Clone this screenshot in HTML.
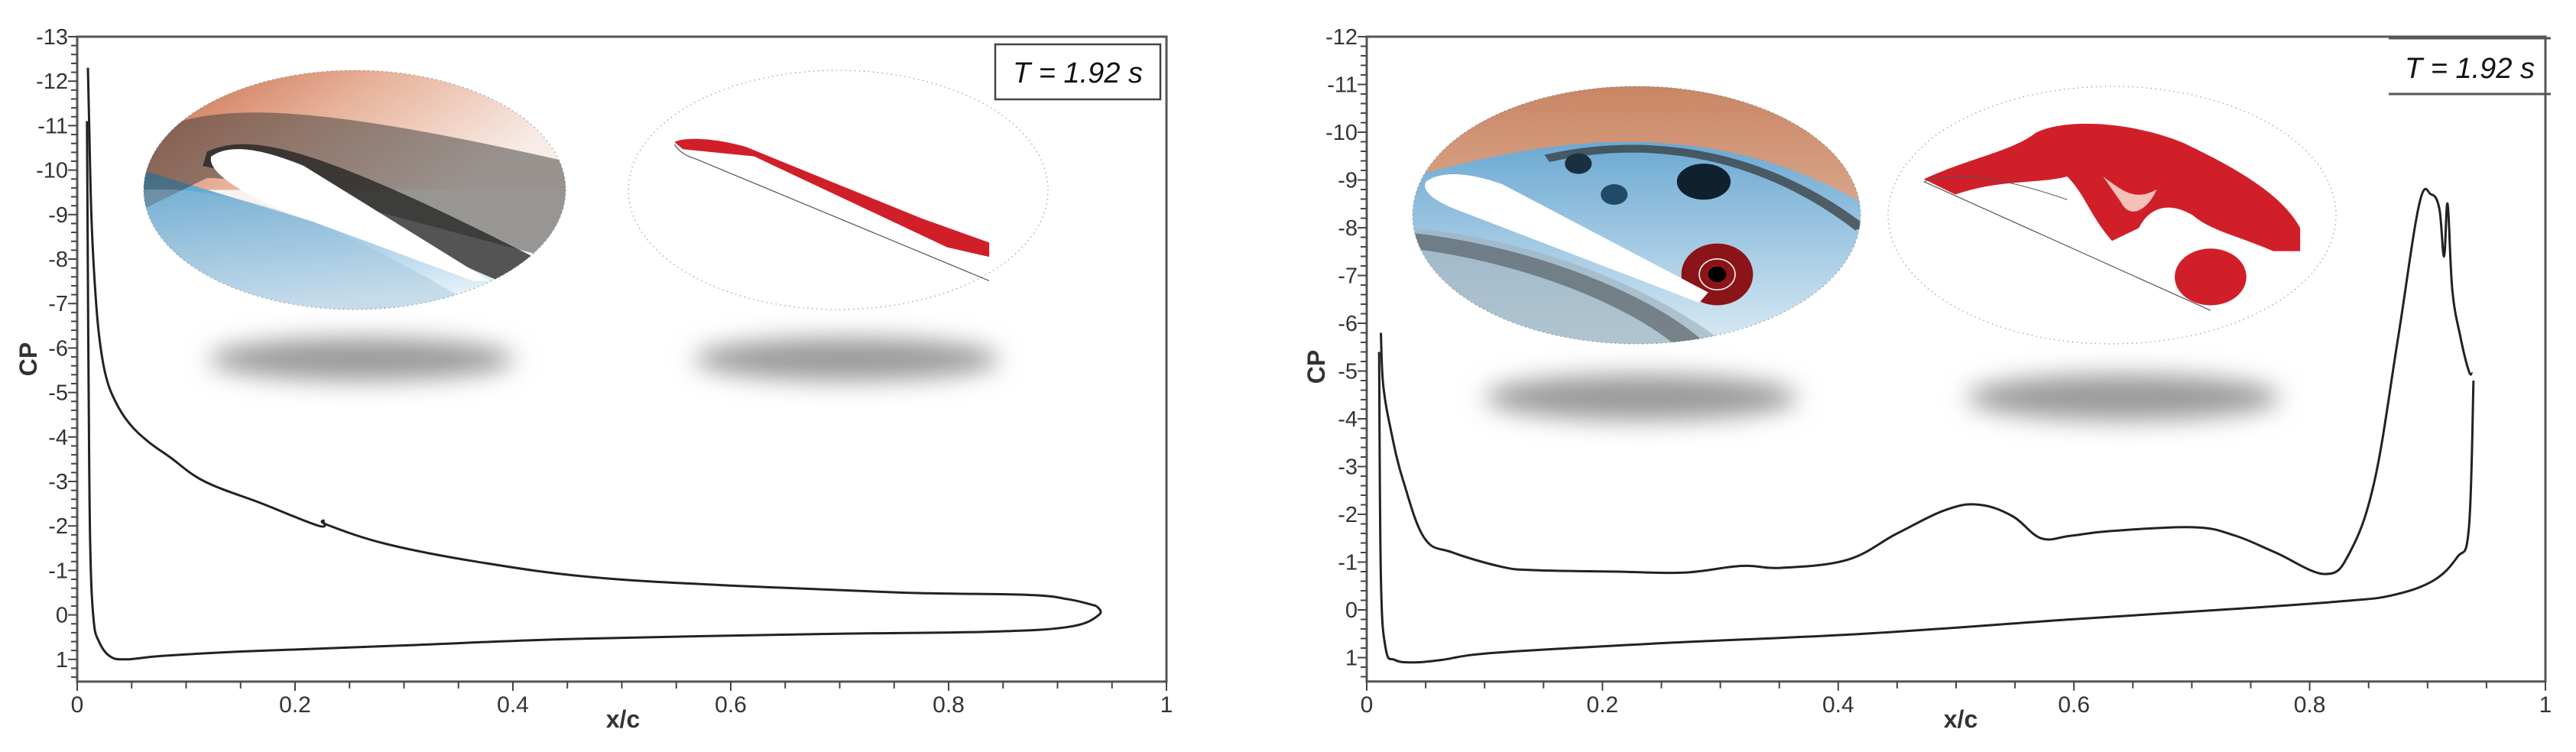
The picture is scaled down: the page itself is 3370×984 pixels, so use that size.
<!DOCTYPE html>
<html><head><meta charset="utf-8"><style>
html,body{margin:0;padding:0;background:#fff;}
svg{display:block;font-family:"Liberation Sans",Arial,sans-serif;}
</style></head><body>
<svg id="root" width="3370" height="984" viewBox="0 0 3370 984" xmlns="http://www.w3.org/2000/svg">
<defs>
<filter id="blur" x="-30%" y="-80%" width="160%" height="260%"><feGaussianBlur stdDeviation="16"/></filter>
<clipPath id="cl1"><ellipse cx="50" cy="50" rx="50" ry="50"/></clipPath>
<linearGradient id="gOr" x1="0" y1="0" x2="1" y2="0.4"><stop offset="0" stop-color="#c86a48"/><stop offset="0.5" stop-color="#e7b29a"/><stop offset="1" stop-color="#f8ece6"/></linearGradient>
<linearGradient id="gBl" x1="0" y1="0" x2="0.3" y2="1"><stop offset="0" stop-color="#4c9ccd"/><stop offset="1" stop-color="#e3f0f8"/></linearGradient>
<linearGradient id="gOr2" x1="0" y1="0" x2="0" y2="1"><stop offset="0" stop-color="#c98664"/><stop offset="1" stop-color="#d9a58a"/></linearGradient>
<linearGradient id="gBl2" x1="0" y1="0" x2="0" y2="1"><stop offset="0" stop-color="#4d97c9"/><stop offset="1" stop-color="#d9eaf4"/></linearGradient>
</defs>
<g id="left"></g>
<g id="right"></g>

<g transform="translate(188,92) scale(5.52,3.13)">
 <g clip-path="url(#cl1)">
  <rect x="0" y="0" width="100" height="100" fill="#f7f3f1"/>
  <rect x="0" y="0" width="100" height="50" fill="url(#gOr)"/>
  <path d="M0,42 L100,95 L100,100 L0,100Z" fill="url(#gBl)"/>
  <path d="M0,28 C15,12 40,14 100,38 L100,80 C60,62 30,45 15,45 L0,58Z" fill="#3a3a3a" opacity="0.5"/>
  <path d="M15,34 C25,26 40,30 100,85 L100,100 C60,70 30,45 14,40Z" fill="#1f1f1f" opacity="0.75"/>
  <path d="M0,50 C20,48 45,62 80,100 L0,100Z" fill="#9bbfd6" opacity="0.4"/>
  <path d="M16,36 C20,31 27,32 38,40 L82,88 L78,88 L32,58 C22,50 15,42 16,36Z" fill="#ffffff"/>
 </g>
 <ellipse cx="50" cy="50" rx="50" ry="50" fill="none" stroke="#777" stroke-width="1.3" stroke-dasharray="1,5" vector-effect="non-scaling-stroke"/>
</g>
<g transform="translate(822,92) scale(5.49,3.13)">
 <ellipse cx="50" cy="50" rx="50" ry="50" fill="#fff" stroke="#777" stroke-width="1.3" stroke-dasharray="1,5" vector-effect="non-scaling-stroke"/>
 <path d="M11,30 C13,28 20,28 28,32 L70,62 L86,72 L86,78 L76,74 L30,36 L13,33Z" fill="#d11f2a"/>
 <path d="M11,31 C12,34 14,36 16,37 L86,88" stroke="#555" stroke-width="1.2" fill="none" vector-effect="non-scaling-stroke"/>
</g>
<ellipse cx="473" cy="470" rx="200" ry="28" fill="#9a9a9a" filter="url(#blur)"/>
<ellipse cx="1108" cy="470" rx="200" ry="28" fill="#9a9a9a" filter="url(#blur)"/>

<g transform="translate(1848,113) scale(5.86,3.37)">
 <g clip-path="url(#cl1)">
  <rect x="0" y="0" width="100" height="100" fill="url(#gBl2)"/>
  <path d="M0,0 L100,0 L100,45 C80,25 60,20 40,22 C25,24 15,28 0,35Z" fill="url(#gOr2)"/>
  <path d="M30,28 C55,18 80,28 100,55" stroke="#333" stroke-width="3" fill="none" opacity="0.7"/>
  <path d="M0,55 C30,60 55,80 70,100 L0,100Z" fill="#9fb3c0" opacity="0.7"/>
  <path d="M0,60 C25,65 50,82 62,100" stroke="#333" stroke-width="6" fill="none" opacity="0.45"/>
  <ellipse cx="65" cy="37" rx="6" ry="7" fill="#10202e"/>
  <ellipse cx="37" cy="30" rx="3" ry="4" fill="#1a3040"/>
  <ellipse cx="45" cy="42" rx="3" ry="4" fill="#204a66"/>
  <ellipse cx="68" cy="73" rx="8" ry="12" fill="#8a1418"/>
  <ellipse cx="68" cy="73" rx="4" ry="6" fill="none" stroke="#fff" stroke-width="1.5" vector-effect="non-scaling-stroke"/>
  <ellipse cx="68" cy="73" rx="2" ry="3" fill="#000"/>
  <path d="M3,37 C6,33 12,33 20,38 L66,80 L64,84 L10,48 C4,44 2,40 3,37Z" fill="#fff"/>
 </g>
 <ellipse cx="50" cy="50" rx="50" ry="50" fill="none" stroke="#777" stroke-width="1.3" stroke-dasharray="1,5" vector-effect="non-scaling-stroke"/>
</g>
<g transform="translate(2470,113) scale(5.86,3.37)">
 <ellipse cx="50" cy="50" rx="50" ry="50" fill="#fff" stroke="#777" stroke-width="1.3" stroke-dasharray="1,5" vector-effect="non-scaling-stroke"/>
 <path d="M8,36 C18,28 28,25 33,18 C40,12 55,14 66,22 C78,32 88,42 92,55 L92,64 L86,64 C78,58 72,56 68,50 C62,44 58,48 56,55 L50,60 C45,50 44,42 40,35 C33,38 25,36 15,42Z" fill="#d11f2a"/>
 <path d="M48,35 C52,40 55,45 60,40 C58,48 54,52 52,45Z" fill="#f4c0b8"/>
 <ellipse cx="72" cy="74" rx="8" ry="11" fill="#d11f2a"/>
 <path d="M8,37 L72,87" stroke="#555" stroke-width="1.2" fill="none" vector-effect="non-scaling-stroke"/>
 <path d="M8,37 C15,33 25,35 40,44" stroke="#555" stroke-width="1" fill="none" vector-effect="non-scaling-stroke"/>
</g>
<ellipse cx="2147" cy="520" rx="205" ry="30" fill="#9a9a9a" filter="url(#blur)"/>
<ellipse cx="2778" cy="520" rx="205" ry="30" fill="#9a9a9a" filter="url(#blur)"/>

<g>
 <rect x="1302" y="58" width="216" height="72" fill="#fff" stroke="#444" stroke-width="2.5"/>
 <text x="1410" y="108" text-anchor="middle" font-size="38" font-style="italic" fill="#111">T = 1.92 s</text>
</g>
<g>
 <line x1="3125" y1="50" x2="3337" y2="50" stroke="#555" stroke-width="3"/>
 <line x1="3125" y1="123" x2="3337" y2="123" stroke="#555" stroke-width="3"/>
 <text x="3231" y="102" text-anchor="middle" font-size="38" font-style="italic" fill="#111">T = 1.92 s</text>
</g>
</svg>
<script>
const leftUpperX = [0.0098,0.011,0.013,0.016,0.02,0.026,0.035,0.048,0.065,0.085,0.117,0.17,0.222,0.226,0.23,0.283,0.366,0.472,0.608,0.758,0.872,0.91,0.936];
const leftUpperCp = [-12.3,-11,-9,-7.5,-6.3,-5.4,-4.8,-4.3,-3.9,-3.55,-3.0,-2.5,-2.0,-2.12,-2.02,-1.6,-1.2,-0.85,-0.65,-0.5,-0.45,-0.35,-0.2];
const leftLowerX = [0.936,0.938,0.91,0.834,0.683,0.457,0.306,0.155,0.079,0.045,0.03,0.02,0.015,0.012,0.0105,0.0095,0.009];
const leftLowerCp = [-0.2,0.0,0.27,0.38,0.43,0.54,0.68,0.82,0.92,1.0,0.93,0.6,0.1,-1.5,-5,-9,-11.1];
const rightUpperX = [0.012,0.014,0.021,0.031,0.049,0.073,0.115,0.143,0.213,0.269,0.318,0.352,0.408,0.45,0.492,0.52,0.548,0.572,0.597,0.631,0.701,0.736,0.771,0.813,0.834,0.855,0.875,0.893,0.903,0.91,0.914,0.917,0.921,0.928,0.935,0.938];
const rightUpperCp = [-5.8,-4.7,-3.7,-2.7,-1.5,-1.2,-0.9,-0.83,-0.8,-0.78,-0.92,-0.88,-1.05,-1.6,-2.1,-2.2,-1.96,-1.5,-1.55,-1.65,-1.73,-1.56,-1.2,-0.75,-1.2,-2.7,-5.7,-8.5,-8.7,-8.4,-7.4,-8.5,-6.7,-5.7,-5.0,-4.95];
const rightLowerX = [0.939,0.935,0.925,0.904,0.869,0.827,0.736,0.597,0.422,0.248,0.108,0.063,0.04,0.024,0.016,0.012,0.0105];
const rightLowerCp = [-4.8,-1.7,-1.1,-0.6,-0.3,-0.18,-0.02,0.2,0.5,0.7,0.9,1.05,1.1,1.05,0.8,-0.7,-5.4];
const xTickLabels = ["0","0.2","0.4","0.6","0.8","1"];
const leftYTicks = [-13,-12,-11,-10,-9,-8,-7,-6,-5,-4,-3,-2,-1,0,1];
const rightYTicks = [-12,-11,-10,-9,-8,-7,-6,-5,-4,-3,-2,-1,0,1];

const NS = "http://www.w3.org/2000/svg";
function mk(tag, attrs, parent){const e=document.createElementNS(NS,tag);for(const k in attrs)e.setAttribute(k,attrs[k]);parent.appendChild(e);return e;}
function smooth(pts){
  let d='M'+pts[0][0].toFixed(1)+','+pts[0][1].toFixed(1);
  for(let i=0;i<pts.length-1;i++){
    const p0=pts[Math.max(0,i-1)],p1=pts[i],p2=pts[i+1],p3=pts[Math.min(pts.length-1,i+2)];
    const t=0.18;
    const c1=[p1[0]+(p2[0]-p0[0])*t,p1[1]+(p2[1]-p0[1])*t];
    const c2=[p2[0]-(p3[0]-p1[0])*t,p2[1]-(p3[1]-p1[1])*t];
    d+=' C'+c1[0].toFixed(1)+','+c1[1].toFixed(1)+' '+c2[0].toFixed(1)+','+c2[1].toFixed(1)+' '+p2[0].toFixed(1)+','+p2[1].toFixed(1);
  }
  return d;
}
function drawChart(g, cfg, upX, upY, loX, loY, yTicks, prefix){
  const sx = v => cfg.x0 + v*(cfg.x1-cfg.x0);
  const sy = v => cfg.yTop + (v - cfg.vTop)*cfg.unit;
  const yBot = sy(1.5);
  const frame = mk('rect',{x:cfg.x0,y:cfg.yTop,width:cfg.x1-cfg.x0,height:yBot-cfg.yTop,fill:'none',stroke:'#555','stroke-width':3},g);
  
  
  for(let i=0;i<=20;i++){
    const v=i*0.05, major=(i%4===0);
    const t=mk('line',{x1:sx(v),x2:sx(v),y1:yBot,y2:yBot+(major?12:9),stroke:'#444','stroke-width':2},g);
    
    
  }
  xTickLabels.forEach((lab,i)=>{
    const t=mk('text',{x:sx(i*0.2),y:yBot+40,'text-anchor':'middle','font-size':30,fill:'#333'},g);
    t.textContent=lab;
    
    
  });
  for(let v=cfg.vTop; v<=1.5001; v+=0.2){
    const major=Math.abs(v-Math.round(v))<1e-6;
    const t=mk('line',{x1:cfg.x0-(major?12:8),x2:cfg.x0,y1:sy(v),y2:sy(v),stroke:'#444','stroke-width':2},g);
    
    
  }
  yTicks.forEach(v=>{
    const t=mk('text',{x:cfg.x0-12,y:sy(v)+10,'text-anchor':'end','font-size':29,fill:'#333'},g);
    t.textContent=String(v);
    
    
  });
  const xl=mk('text',{x:cfg.xlx,y:952,'text-anchor':'middle','font-size':32,'font-weight':'bold',fill:'#333'},g);
  xl.textContent='x/c';
  
  
  const yl=mk('text',{x:0,y:0,'text-anchor':'middle','font-size':32,'font-weight':'bold',fill:'#333',transform:`translate(${cfg.ylx},${cfg.yly}) rotate(-90)`},g);
  yl.textContent='CP';
  
  
  const pts=(xs,ys)=>xs.map((x,i)=>[sx(x),sy(ys[i])]);
  const up=mk('path',{d:smooth(pts(upX,upY)),fill:'none',stroke:'#222','stroke-width':3,'stroke-linejoin':'round'},g);
  
  
  const lo=mk('path',{d:smooth(pts(loX,loY)),fill:'none',stroke:'#222','stroke-width':3,'stroke-linejoin':'round'},g);
  
  
}
drawChart(document.getElementById('left'),{x0:101,x1:1526,yTop:48,vTop:-13,unit:58.2,xlx:815,ylx:48,yly:470},leftUpperX,leftUpperCp,leftLowerX,leftLowerCp,leftYTicks,'left');
drawChart(document.getElementById('right'),{x0:1788,x1:3330,yTop:48,vTop:-12,unit:62.5,xlx:2565,ylx:1733,yly:480},rightUpperX,rightUpperCp,rightLowerX,rightLowerCp,rightYTicks,'right');
</script>
</body></html>
